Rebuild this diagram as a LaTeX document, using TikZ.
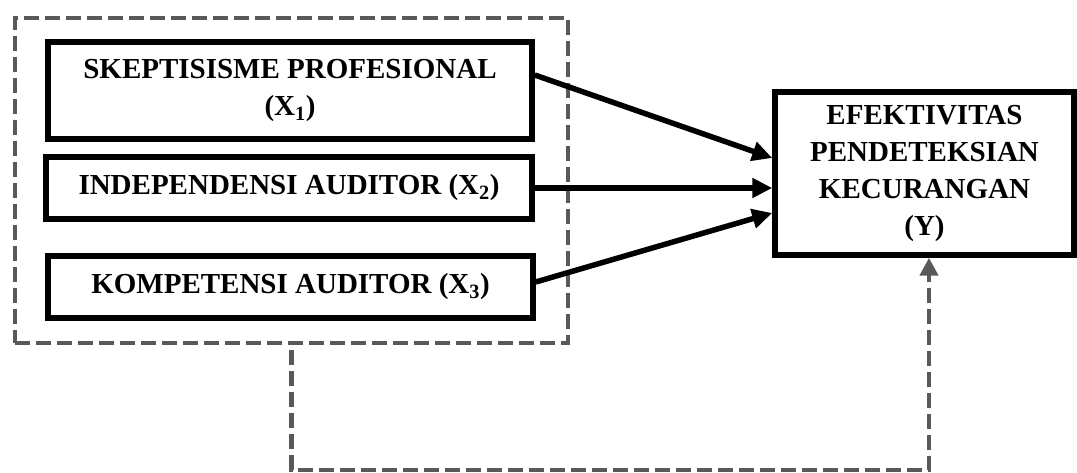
\documentclass[tikz,border=0pt]{standalone}
\usepackage{fontspec}
\setmainfont{Liberation Serif}
\usetikzlibrary{arrows.meta}
\definecolor{dashgray}{RGB}{89,89,89}

\begin{document}
\begin{tikzpicture}[x=1pt,y=1pt,
    varbox/.style={draw,line width=5.5pt,align=center,inner sep=0pt,
      font=\fontsize{29}{37}\selectfont\bfseries},
    arr/.style={line width=5.5pt,-{Triangle[length=20pt,width=19pt]}},
    grpline/.style={draw=dashgray,line width=4.5pt,dash pattern=on 15pt off 6pt}]
    \useasboundingbox (0,0) rectangle (1077,473);
    % independent variables
    \node[varbox,minimum width=484pt,minimum height=97pt] (sk) at (290,382.5)
      {SKEPTISISME PROFESIONAL\\(X\textsubscript{1})};
    \node[varbox,minimum width=486pt,minimum height=62pt] (id) at (289,285)
      {INDEPENDENSI AUDITOR (X\textsubscript{2})};
    \node[varbox,minimum width=485pt,minimum height=62pt] (kp) at (290.5,186)
      {KOMPETENSI AUDITOR (X\textsubscript{3})};
    \node[grpline,minimum width=553pt,minimum height=325pt] (grp) at (291.5,292.5) {};
    % dependent variable
    \node[varbox,minimum width=299pt,minimum height=163pt] (eff) at (924.5,299.5)
      {EFEKTIVITAS\\PENDETEKSIAN\\KECURANGAN\\(Y)};
    \draw[arr] ([yshift=15.5pt]sk.east) -- ([yshift=15.5pt]eff.west);
    \draw[arr] (id.east) -- (id -| eff.west);
    \draw[arr] ([yshift=5pt]kp.east) -- ([yshift=-39.5pt]eff.west);
    \draw[grpline,-{Triangle[length=18pt,width=18pt,fill=dashgray]}]
      ([yshift=-5pt]grp.south) |- (929,3) -- ([xshift=4.5pt]eff.south);
  \end{tikzpicture}
\end{document}
